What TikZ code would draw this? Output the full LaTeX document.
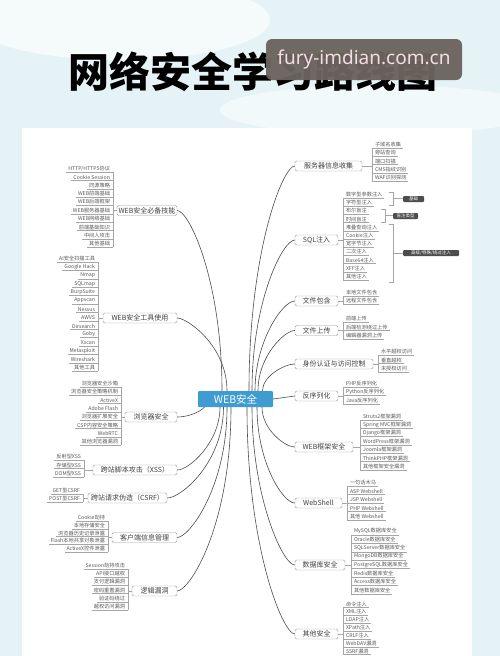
\documentclass[tikz,border=0pt]{standalone}
\usepackage{fontspec}
\setmainfont{Noto Sans CJK SC}
\newfontfamily\wmfont{Noto Sans}
\usetikzlibrary{calc}
\definecolor{bg}{HTML}{E6F3F6}
\definecolor{cblue}{HTML}{3E9CD2}
\definecolor{wm}{HTML}{6C645D}
\definecolor{wmtext}{HTML}{F4DCE8}
\definecolor{tagc}{HTML}{4D4D4D}
\tikzset{
  box/.style={draw=black!40, rounded corners=1.5pt, fill=white, inner sep=0pt,
    minimum height=10pt, font=\fontsize{7}{8}\selectfont, text=black!75},
  item/.style={inner sep=0.8pt, font=\fontsize{5.2}{6}\selectfont, text=black!65},
  sub/.style={draw=black!35, line width=0.4pt},
  mainln/.style={draw=black!70, line width=0.6pt},
  tagbox/.style={fill=tagc, rounded corners=1pt, text=white, inner sep=0pt,
    minimum height=6pt, font=\fontsize{4.5}{5}\selectfont},
}
% right list: prefix, vline x, first centre y, spacing, items
\newcommand{\rlist}[5]{%
  \foreach \t [count=\i] in {#5} {
    \pgfmathsetmacro{\yy}{-(#3+(\i-1)*#4+3)}
    \node[item,anchor=south west] (#1-\i) at (#2+2,\yy) {\t};
    \draw[sub] (#2,\yy) -- ([xshift=1pt]#1-\i.south east);
    \xdef\lastY{\yy}
  }
  \pgfmathsetmacro{\fy}{-(#3+3)}
  \draw[sub] (#2,\fy) -- (#2,\lastY);
}
\newcommand{\llist}[5]{%
  \foreach \t [count=\i] in {#5} {
    \pgfmathsetmacro{\yy}{-(#3+(\i-1)*#4+3)}
    \node[item,anchor=south east] (#1-\i) at (#2-2,\yy) {\t};
    \draw[sub] (#2,\yy) -- ([xshift=-1pt]#1-\i.south west);
    \xdef\lastY{\yy}
  }
  \pgfmathsetmacro{\fy}{-(#3+3)}
  \draw[sub] (#2,\fy) -- (#2,\lastY);
}
\begin{document}
\begin{tikzpicture}[x=1pt,y=1pt]
\clip (0,0) rectangle (500,-656);
\fill[bg] (0,0) rectangle (500,-656);
\fill[white,opacity=0.6] (120,-20) ellipse (150 and 40);
\fill[white,opacity=0.5] (380,-110) ellipse (160 and 25);
\fill[white] (22,-128) rectangle (472,-656);

% title
\node[font=\fontsize{41}{41}\selectfont\bfseries, text=black, inner sep=0] (title) at (252.5,-72) {网络安全学习路线图};
% watermark
\node[fill=wm, opacity=0.96, text opacity=1, rounded corners=6pt, minimum width=196pt, minimum height=41pt, inner sep=0,
  text=wmtext, font=\wmfont\fontsize{19}{19}\selectfont] (wmk) at (364,-59.5) {fury-imdian.com.cn};

% centre
\node[fill=cblue, rounded corners=1pt, minimum width=75pt, minimum height=16pt, inner sep=0,
  text=white, font=\fontsize{10.5}{11}\selectfont] (c) at (235.5,-399) {WEB安全};

% left boxes
\node[box, minimum width=60pt] (wa) at (147,-210.5) {WEB安全必备技能};
\node[box, minimum width=74pt] (wt) at (140,-318) {WEB安全工具使用};
\node[box, minimum width=52pt] (br) at (151,-417) {浏览器安全};
\node[box, minimum width=84pt] (xss) at (135,-470) {跨站脚本攻击（XSS）};
\node[box, minimum width=79pt] (csrf) at (127.5,-498) {跨站请求伪造（CSRF）};
\node[box, minimum width=65pt] (acc) at (144.5,-537.5) {客户端信息管理};
\node[box, minimum width=45pt] (oth) at (154.5,-591) {逻辑漏洞};

% right boxes
\node[box, minimum width=67pt] (r1) at (328.5,-166) {服务器信息收集};
\node[box, minimum width=43pt] (r2) at (316.5,-240) {SQL注入};
\node[box, minimum width=43pt] (r3) at (316.5,-301) {文件包含};
\node[box, minimum width=43pt] (r4) at (316.5,-330.5) {文件上传};
\node[box, minimum width=78pt] (r5) at (334,-364) {身份认证与访问控制};
\node[box, minimum width=43pt] (r6) at (316.5,-396) {反序列化};
\node[box, minimum width=58pt] (r7) at (324,-447) {WEB框架安全};
\node[box, minimum width=47pt] (r8) at (318.5,-503) {WebShell};
\node[box, minimum width=50pt] (r9) at (320,-565) {数据库安全};
\node[box, minimum width=43pt] (r10) at (316.5,-634) {其他安全};

% main connectors
\draw[mainln] (wa.east) to[out=0,in=90,out distance=12pt,in distance=110pt] ([xshift=-13.5pt]c.north);
\draw[mainln] (wt.east) to[out=0,in=90,out distance=10pt,in distance=45pt] ([xshift=-8.5pt]c.north);
\draw[mainln] (br.east) to[out=0,in=-135,out distance=10pt,in distance=8pt] ([xshift=-31pt]c.south);
\draw[mainln] (xss.east) to[out=0,in=-90,out distance=12pt,in distance=35pt] ([xshift=-15.5pt]c.south);
\draw[mainln] (csrf.east) to[out=0,in=-90,out distance=14pt,in distance=55pt] ([xshift=-12pt]c.south);
\draw[mainln] (acc.east) to[out=0,in=-90,out distance=12pt,in distance=80pt] ([xshift=-8.5pt]c.south);
\draw[mainln] (oth.east) to[out=0,in=-90,out distance=12pt,in distance=120pt] ([xshift=-4.5pt]c.south);

\draw[mainln] (r1.west) to[out=180,in=90,out distance=12pt,in distance=140pt] ([xshift=13.5pt]c.north);
\draw[mainln] (r2.west) to[out=180,in=90,out distance=12pt,in distance=90pt] ([xshift=16.5pt]c.north);
\draw[mainln] (r3.west) to[out=180,in=90,out distance=12pt,in distance=50pt] ([xshift=19.5pt]c.north);
\draw[mainln] (r4.west) to[out=180,in=90,out distance=10pt,in distance=35pt] ([xshift=22.5pt]c.north);
\draw[mainln] (r5.west) to[out=180,in=90,out distance=10pt,in distance=15pt] ([xshift=27pt]c.north);
\draw[mainln] (c.east) -- (r6.west);
\draw[mainln] (r7.west) to[out=180,in=-90,out distance=10pt,in distance=22pt] ([xshift=26.5pt]c.south);
\draw[mainln] (r8.west) to[out=180,in=-90,out distance=12pt,in distance=55pt] ([xshift=21.5pt]c.south);
\draw[mainln] (r9.west) to[out=180,in=-90,out distance=12pt,in distance=90pt] ([xshift=16.5pt]c.south);
\draw[mainln] (r10.west) to[out=180,in=-90,out distance=12pt,in distance=140pt] ([xshift=11.5pt]c.south);

% left lists
\llist{la}{113}{169}{8.35}{HTTP/HTTPS协议,Cookie Session,同源策略,WEB前端基础,WEB后端框架,WEB服务器基础,WEB网络基础,前端基础知识,中间人攻击,其他基础}
\draw[sub] (wa.west) -- ++(-4,0);
\llist{lt}{98}{259}{8.4}{AI安全扫描工具,Google Hack,Nmap,SQLmap,BurpSuite,Appscan,Nessus,AWVS,Dirsearch,Goby,Xscan,Metasploit,Wireshark,其他工具}
\draw[sub] (wt.west) -- ++(-5,0);
\llist{lb}{121}{384}{8.3}{浏览器安全沙箱,浏览器安全策略机制,ActiveX,Adobe Flash,浏览器扩展安全,CSP内容安全策略,WebRTC,其他浏览器漏洞}
\draw[sub] (br.west) -- ++(-4,0);
\llist{lx}{84}{457}{8.5}{反射型XSS,存储型XSS,DOM型XSS}
\draw[sub] (xss.west) -- ++(-9,0);
\llist{lc}{83}{491}{8.2}{GET型CSRF,POST型CSRF}
\draw[sub] (csrf.west) -- ++(-5,0);
\llist{lu}{108}{518}{7.8}{Cookie劫持,本地存储安全,浏览器历史记录泄露,Flash本地共享对象泄露,ActiveX控件泄露}
\draw[sub] (acc.west) -- ++(-4,0);
\llist{lo}{128}{566}{8.2}{Session劫持攻击,API接口越权,支付逻辑漏洞,密码重置漏洞,验证码绕过,越权访问漏洞}
\draw[sub] (oth.west) -- ++(-4,0);

% right lists
\rlist{ra}{372}{145}{8.25}{子域名收集,旁站查询,端口扫描,CMS指纹识别,WAF识别探测}
\draw[sub] (r1.east) -- ++(10,0);
\rlist{rb}{343}{195}{8.2}{数字型参数注入,字符型注入,布尔盲注,时间盲注,堆叠查询注入,Cookie注入,宽字节注入,二次注入,Base64注入,XFF注入,其他注入}
\draw[sub] (r2.east) -- ++(5,0);
\rlist{rc}{343}{293}{8.2}{本地文件包含,远程文件包含}
\draw[sub] (r3.east) -- ++(5,0);
\rlist{rd}{343}{319}{8.5}{前端上传,后端检测绕过上传,编辑器漏洞上传}
\draw[sub] (r4.east) -- ++(5,0);
\rlist{re}{378}{352}{8.5}{水平越权访问,垂直越权,未授权访问}
\draw[sub] (r5.east) -- ++(5,0);
\rlist{rf}{343}{384}{8.5}{PHP反序列化,Python反序列化,Java反序列化}
\draw[sub] (r6.east) -- ++(5,0);
\rlist{rg}{360}{417}{8.33}{Struts2框架漏洞,Spring MVC框架漏洞,Django框架漏洞,WordPress框架漏洞,Joomla框架漏洞,ThinkPHP框架漏洞,其他框架安全漏洞}
\draw[sub] (r7.east) -- ++(7,0);
\rlist{rh}{347}{483}{8.5}{一句话木马,ASP Webshell,JSP Webshell,PHP Webshell,其他 Webshell}
\draw[sub] (r8.east) -- ++(5,0);
\rlist{ri}{351}{532}{8.4}{MySQL数据库安全,Oracle数据库安全,SQLServer数据库安全,MongoDB数据库安全,PostgreSQL数据库安全,Redis数据库安全,Access数据库安全,其他数据库安全}
\draw[sub] (r9.east) -- ++(6,0);
\rlist{rj}{343}{604.5}{7.85}{命令注入,XML注入,LDAP注入,XPath注入,CRLF注入,WebDAV漏洞,SSRF漏洞}
\draw[sub] (r10.east) -- ++(5,0);

% SQL brackets and tags
\draw[sub] (389,-192) -- (393,-192) -- (393,-205) -- (389,-205);
\draw[sub] (393,-198.5) -- ++(10,0);
\node[tagbox, minimum width=21pt] (t1) at (413.5,-199) {基础};
\draw[sub] (381,-209) -- (385,-209) -- (385,-222) -- (381,-222);
\draw[sub] (385,-215.5) -- ++(8,0);
\node[tagbox, minimum width=25pt] (t2) at (405.5,-216) {盲注类型};
\draw[sub] (389,-224) -- (393,-224) -- (393,-282) -- (389,-282);
\draw[sub] (393,-253) -- ++(10,0);
\node[tagbox, minimum width=56pt] (t3) at (431,-253) {高级/特殊/绕过注入};
\end{tikzpicture}
\end{document}
